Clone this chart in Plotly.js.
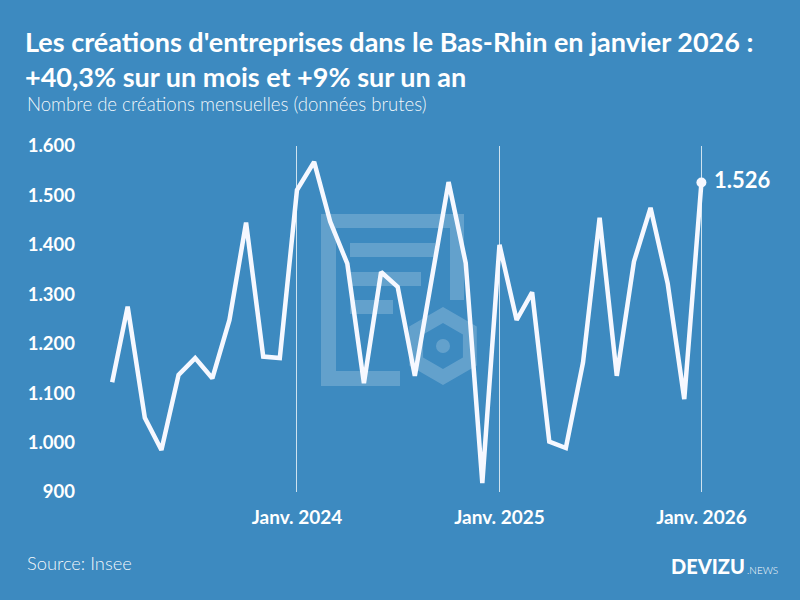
<!DOCTYPE html>
<html>
<head>
<meta charset="utf-8">
<script src="https://cdn.plot.ly/plotly-3.0.1.min.js"></script>
<style>
  html, body { margin: 0; padding: 0; background: #3d8ac0; }
  #chart { width: 800px; height: 600px; }
</style>
</head>
<body>
<div id="chart"></div>
<script>
// ---- Data ----
const months = [
  '2023-02-01','2023-03-01','2023-04-01','2023-05-01','2023-06-01','2023-07-01',
  '2023-08-01','2023-09-01','2023-10-01','2023-11-01','2023-12-01',
  '2024-01-01','2024-02-01','2024-03-01','2024-04-01','2024-05-01','2024-06-01',
  '2024-07-01','2024-08-01','2024-09-01','2024-10-01','2024-11-01','2024-12-01',
  '2025-01-01','2025-02-01','2025-03-01','2025-04-01','2025-05-01','2025-06-01',
  '2025-07-01','2025-08-01','2025-09-01','2025-10-01','2025-11-01','2025-12-01',
  '2026-01-01'
];
const creations = [
  1122, 1275, 1050, 985, 1137, 1171,
  1130, 1248, 1445, 1174, 1171,
  1511, 1568, 1447, 1362, 1120, 1345,
  1315, 1135, 1330, 1527, 1363, 918,
  1400, 1248, 1304, 1002, 989, 1162,
  1455, 1135, 1366, 1475, 1322, 1088,
  1526
];
const xTickVals = ['2024-01-01', '2025-01-01', '2026-01-01'];
const xTickText = ['Janv. 2024', 'Janv. 2025', 'Janv. 2026'];
const yTickVals = [900, 1000, 1100, 1200, 1300, 1400, 1500, 1600];

const titleText = "Les créations d'entreprises dans le Bas-Rhin en janvier 2026 :<br>+40,3% sur un mois et +9% sur un an";
const subtitleText = "Nombre de créations mensuelles (données brutes)";
const sourceText = "Source: Insee";

// ---- Layout geometry ----
const W = 800, H = 600;
const M = { l: 100, r: 20, t: 146, b: 108 };
const pw = W - M.l - M.r, ph = H - M.t - M.b;
const px = x => (x - M.l) / pw;          // pixel -> paper x
const py = y => (H - M.b - y) / ph;      // pixel -> paper y

const bg = '#3d8ac0';
const wm = 'rgba(255,255,255,0.2)';
const lineCol = '#f6f8ff';
const FONT = 'Lato, Roboto, sans-serif';

function rect(x0, y0, x1, y1) {
  return { type: 'rect', xref: 'paper', yref: 'paper', layer: 'below',
    x0: px(x0), x1: px(x1), y0: py(y1), y1: py(y0),
    fillcolor: wm, line: { width: 0 } };
}
function hexPath(cx, cy, r) {
  let d = '';
  for (let i = 0; i < 6; i++) {
    const a = Math.PI / 180 * (-90 + 60 * i);
    const x = cx + r * Math.cos(a), y = cy + r * Math.sin(a);
    d += (i === 0 ? 'M' : 'L') + px(x) + ',' + py(y);
  }
  return d + 'Z';
}

const shapes = [
  rect(321, 214, 336, 386),
  rect(336, 214, 464, 228),
  rect(450, 228, 464, 300),
  rect(336, 371, 400, 386),
  rect(350, 243, 435, 257),
  rect(350, 272, 421, 286),
  rect(350, 300, 393, 314),
  { type: 'path', xref: 'paper', yref: 'paper', layer: 'below',
    path: hexPath(443, 346, 39) + ' ' + hexPath(443, 346, 23),
    fillrule: 'evenodd', fillcolor: wm, line: { width: 0 } },
  { type: 'circle', xref: 'paper', yref: 'paper', layer: 'below',
    x0: px(436), x1: px(450), y0: py(353), y1: py(339),
    fillcolor: wm, line: { width: 0 } }
];

const traces = [
  {
    x: months, y: creations, type: 'scatter', mode: 'lines',
    line: { color: lineCol, width: 4.5 },
    hoverinfo: 'skip', showlegend: false
  },
  {
    x: [months[months.length - 1]], y: [creations[creations.length - 1]],
    type: 'scatter', mode: 'markers+text',
    marker: { color: lineCol, size: 10 },
    text: [creations[creations.length - 1]],
    texttemplate: ' %{y:,d}',
    textposition: 'middle right',
    textfont: { family: FONT, weight: 700, size: 22, color: '#ffffff' },
    hoverinfo: 'skip', showlegend: false, cliponaxis: false
  }
];

const layout = {
  width: W, height: H,
  paper_bgcolor: bg, plot_bgcolor: bg,
  separators: ',.',
  margin: M,
  showlegend: false,
  title: {
    text: titleText,
    x: 25 / W, xanchor: 'left',
    xref: 'container', yref: 'container',
    y: 1 - 52 / H, yanchor: 'top',
    font: { family: FONT, weight: 700, size: 27, color: '#ffffff' }
  },
  xaxis: {
    type: 'date',
    range: ['2023-01-10', '2026-05-23'],
    tickvals: xTickVals, ticktext: xTickText,
    showgrid: true, gridcolor: 'rgba(255,255,255,0.75)', gridwidth: 1,
    zeroline: false, showline: false, ticks: '',
    ticklabelstandoff: 12,
    tickfont: { family: FONT, weight: 700, size: 19, color: '#ffffff' },
    fixedrange: true
  },
  yaxis: {
    range: [900, 1600],
    tickvals: yTickVals, tickformat: ',d',
    showgrid: false, zeroline: false, showline: false, ticks: '',
    ticklabelstandoff: 24,
    tickfont: { family: FONT, weight: 700, size: 18.5, color: '#ffffff' },
    fixedrange: true
  },
  shapes: shapes,
  annotations: [
    { text: subtitleText, xref: 'paper', yref: 'paper', x: px(25), y: py(104),
      xanchor: 'left', yanchor: 'middle', showarrow: false,
      font: { family: FONT, weight: 300, size: 18.6, color: 'rgba(255,255,255,0.95)' } },
    { text: sourceText, xref: 'paper', yref: 'paper', x: px(25), y: py(563),
      xanchor: 'left', yanchor: 'middle', showarrow: false,
      font: { family: FONT, weight: 300, size: 18.3, color: 'rgba(255,255,255,0.95)' } },
    { text: 'DEVIZU', xref: 'paper', yref: 'paper', x: px(747), y: py(566),
      xanchor: 'right', yanchor: 'middle', showarrow: false,
      font: { family: FONT, weight: 900, size: 20, color: '#ffffff' } },
    { text: '.NEWS', xref: 'paper', yref: 'paper', x: px(745), y: py(570),
      xanchor: 'left', yanchor: 'middle', showarrow: false,
      font: { family: FONT, weight: 300, size: 10, color: '#ffffff' } }
  ]
};

Plotly.newPlot('chart', traces, layout, { displayModeBar: false, staticPlot: true });
</script>
</body>
</html>
